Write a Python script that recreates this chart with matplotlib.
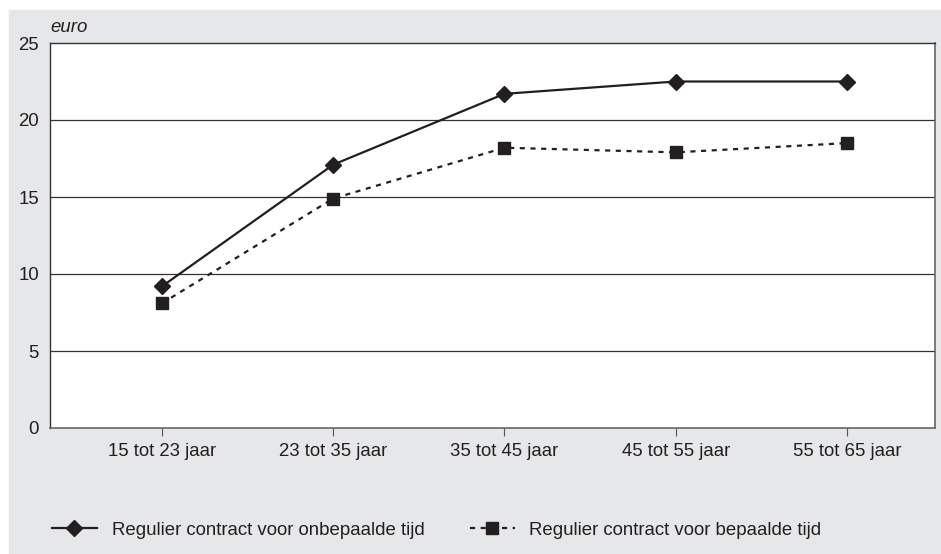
import matplotlib
matplotlib.use("Agg")
from matplotlib import pyplot as plt
from matplotlib.patches import Rectangle

categories = ["15 tot 23 jaar", "23 tot 35 jaar", "35 tot 45 jaar",
              "45 tot 55 jaar", "55 tot 65 jaar"]
onbepaald = [9.2, 17.1, 21.7, 22.5, 22.5]
bepaald = [8.1, 14.9, 18.2, 17.9, 18.5]
yticks = [0, 5, 10, 15, 20, 25]

plt.rcParams["font.family"] = ["Liberation Sans", "DejaVu Sans"]
plt.rcParams["font.size"] = 13.4

W, H = 941, 554
fig = plt.figure(figsize=(W / 100, H / 100), dpi=100)
# grey panel behind everything
fig.patches.append(Rectangle((9 / W, 0), 1, (H - 10) / H,
                             transform=fig.transFigure, color="#e6e7e8",
                             zorder=-10))

ax = fig.add_axes([50 / W, 126 / H, 885 / W, 385 / H])
ax.set_facecolor("white")
x = range(len(categories))
ax.plot(x, onbepaald, color="#231f20", lw=1.6, marker="D", ms=8,
        label="Regulier contract voor onbepaalde tijd", zorder=3)
ax.plot(x, bepaald, color="#231f20", lw=1.6, ls=(0, (2.3, 2.5)), marker="s",
        ms=8.5, label="Regulier contract voor bepaalde tijd", zorder=3)

ax.set_xlim(-0.654, 4.514)
ax.set_ylim(0, 25)
ax.set_yticks(yticks)
ax.set_xticks(list(x))
ax.set_xticklabels(categories)
for y in yticks[1:-1]:
    ax.axhline(y, color="#333333", lw=0.9, zorder=1)
for s in ["top", "left"]:
    ax.spines[s].set_color("#333333")
    ax.spines[s].set_linewidth(1)
for s in ["right", "bottom"]:
    ax.spines[s].set_color("#666666")
    ax.spines[s].set_linewidth(1.2)
ax.tick_params(axis="y", length=0, pad=8, colors="#231f20")
ax.tick_params(axis="x", length=6, direction="out", pad=5, color="#555555",
               labelcolor="#231f20")

fig.text(50 / W, 1 - 28 / H, "euro", style="italic", va="center",
         color="#231f20")

leg = fig.legend(loc="center left", bbox_to_anchor=(52 / W, 1 - 530 / H),
                 ncol=2, frameon=False, handlelength=2.4, columnspacing=2.45,
                 handletextpad=0.8, borderaxespad=0, borderpad=0)
for t in leg.get_texts():
    t.set_color("#231f20")

fig.savefig("out.png", dpi=100)
